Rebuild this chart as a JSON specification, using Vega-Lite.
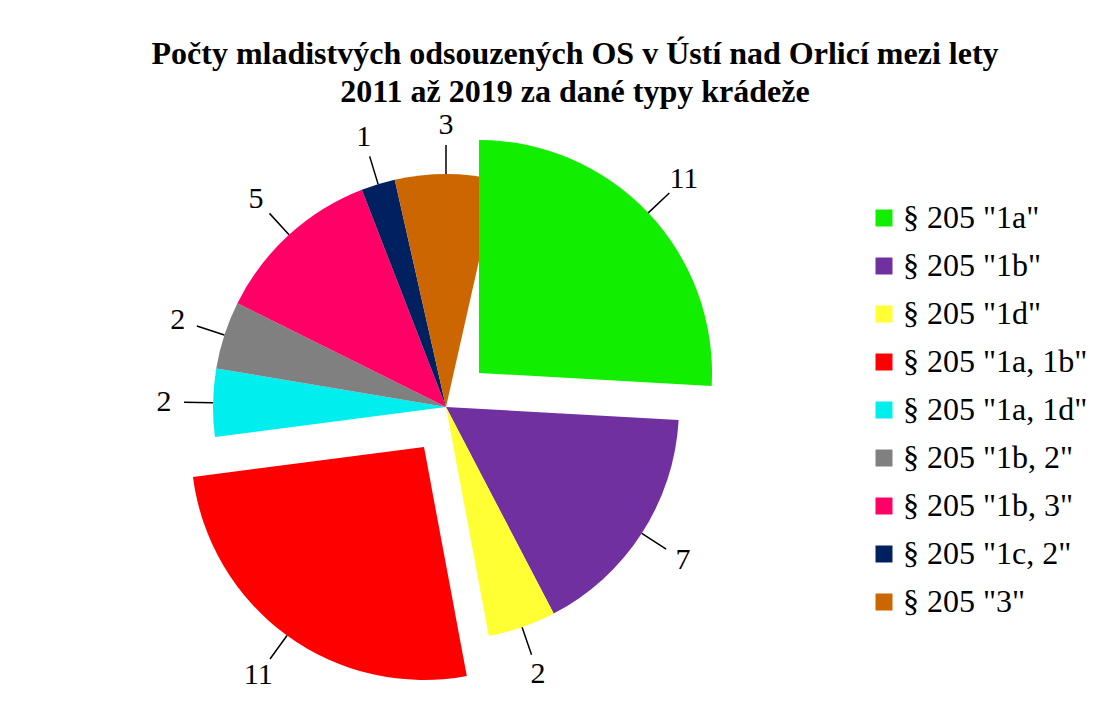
{
  "$schema": "https://vega.github.io/schema/vega-lite/v6.json",
  "autosize": {"type": "none"},
  "padding": {"left": 0, "top": 130, "right": 228, "bottom": 18},
  "width": 892,
  "height": 554,
  "background": "white",
  "config": {
    "view": {"stroke": null},
    "legend": {"labelFont": "Liberation Serif"}
  },
  "title": {
    "text": ["Počty mladistvých odsouzených OS v Ústí nad Orlicí mezi lety", "2011 až 2019 za dané typy krádeže"],
    "font": "Liberation Serif",
    "fontSize": 32,
    "fontWeight": "bold",
    "color": "black",
    "anchor": "middle",
    "frame": "group",
    "dx": 129,
    "lineHeight": 38,
    "limit": 1100,
    "offset": 1
  },
  "data": {
    "values": [
      {"typ": "§ 205 \"1a\"", "pocet": 11, "poradi": 1},
      {"typ": "§ 205 \"1b\"", "pocet": 7, "poradi": 2},
      {"typ": "§ 205 \"1d\"", "pocet": 2, "poradi": 3},
      {"typ": "§ 205 \"1a, 1b\"", "pocet": 11, "poradi": 4},
      {"typ": "§ 205 \"1a, 1d\"", "pocet": 2, "poradi": 5},
      {"typ": "§ 205 \"1b, 2\"", "pocet": 2, "poradi": 6},
      {"typ": "§ 205 \"1b, 3\"", "pocet": 5, "poradi": 7},
      {"typ": "§ 205 \"1c, 2\"", "pocet": 1, "poradi": 8},
      {"typ": "§ 205 \"3\"", "pocet": 3, "poradi": 9}
    ]
  },
  "transform": [
    {"stack": "pocet", "groupby": [], "sort": [{"field": "poradi", "order": "ascending"}], "as": ["s0", "s1"]},
    {"calculate": "(datum.s0 + datum.s1) / 2", "as": "mid"}
  ],
  "layer": [
    {
      "transform": [{"filter": "datum.poradi != 1 && datum.poradi != 4"}],
      "mark": {"type": "arc", "radius": 233},
      "encoding": {
        "theta": {"field": "s0", "type": "quantitative", "scale": {"zero": true, "nice": false}},
        "theta2": {"field": "s1"},
        "color": {
          "field": "typ", "type": "nominal",
          "scale": {
            "domain": ["§ 205 \"1a\"", "§ 205 \"1b\"", "§ 205 \"1d\"", "§ 205 \"1a, 1b\"", "§ 205 \"1a, 1d\"", "§ 205 \"1b, 2\"", "§ 205 \"1b, 3\"", "§ 205 \"1c, 2\"", "§ 205 \"3\""],
            "range": ["#11EE00", "#7030A0", "#FFFF33", "#FF0000", "#00EEEE", "#808080", "#FF0066", "#002060", "#CC6600"]
          },
          "legend": {
            "orient": "none",
            "legendX": 868,
            "legendY": 72,
            "title": null,
            "padding": 0,
            "symbolType": "square",
            "symbolSize": 289,
            "symbolStrokeWidth": 0,
            "labelFont": "Liberation Serif",
            "labelFontSize": 32,
            "labelColor": "black",
            "labelOffset": 3,
            "rowPadding": 16,
            "labelLimit": 300
          }
        }
      }
    },
    {
      "transform": [{"filter": "datum.poradi == 1"}],
      "mark": {"type": "arc", "radius": 233, "xOffset": 33, "yOffset": -34},
      "encoding": {
        "theta": {"field": "s0", "type": "quantitative"},
        "theta2": {"field": "s1"},
        "color": {"field": "typ", "type": "nominal"}
      }
    },
    {
      "transform": [{"filter": "datum.poradi == 4"}],
      "mark": {"type": "arc", "radius": 233, "xOffset": -22, "yOffset": 40},
      "encoding": {
        "theta": {"field": "s0", "type": "quantitative"},
        "theta2": {"field": "s1"},
        "color": {"field": "typ", "type": "nominal"}
      }
    },
    {
      "transform": [{"filter": "datum.poradi != 1 && datum.poradi != 4"}],
      "mark": {"type": "arc", "radius": 262, "radius2": 233, "fill": null, "stroke": "black", "strokeWidth": 1.5},
      "encoding": {
        "theta": {"field": "mid", "type": "quantitative"},
        "theta2": {"field": "mid"}
      }
    },
    {
      "transform": [{"filter": "datum.poradi == 1"}],
      "mark": {"type": "arc", "radius": 262, "radius2": 233, "fill": null, "stroke": "black", "strokeWidth": 1.5, "xOffset": 33, "yOffset": -34},
      "encoding": {
        "theta": {"field": "mid", "type": "quantitative"},
        "theta2": {"field": "mid"}
      }
    },
    {
      "transform": [{"filter": "datum.poradi == 4"}],
      "mark": {"type": "arc", "radius": 262, "radius2": 233, "fill": null, "stroke": "black", "strokeWidth": 1.5, "xOffset": -22, "yOffset": 40},
      "encoding": {
        "theta": {"field": "mid", "type": "quantitative"},
        "theta2": {"field": "mid"}
      }
    },
    {
      "transform": [{"filter": "datum.poradi != 1 && datum.poradi != 4"}],
      "mark": {"type": "text", "radius": 282, "font": "Liberation Serif", "fontSize": 30, "color": "black"},
      "encoding": {
        "theta": {"field": "mid", "type": "quantitative"},
        "text": {"field": "pocet", "type": "quantitative"}
      }
    },
    {
      "transform": [{"filter": "datum.poradi == 1"}],
      "mark": {"type": "text", "radius": 282, "font": "Liberation Serif", "fontSize": 30, "color": "black", "xOffset": 33, "yOffset": -34},
      "encoding": {
        "theta": {"field": "mid", "type": "quantitative"},
        "text": {"field": "pocet", "type": "quantitative"}
      }
    },
    {
      "transform": [{"filter": "datum.poradi == 4"}],
      "mark": {"type": "text", "radius": 282, "font": "Liberation Serif", "fontSize": 30, "color": "black", "xOffset": -22, "yOffset": 40},
      "encoding": {
        "theta": {"field": "mid", "type": "quantitative"},
        "text": {"field": "pocet", "type": "quantitative"}
      }
    }
  ]
}
